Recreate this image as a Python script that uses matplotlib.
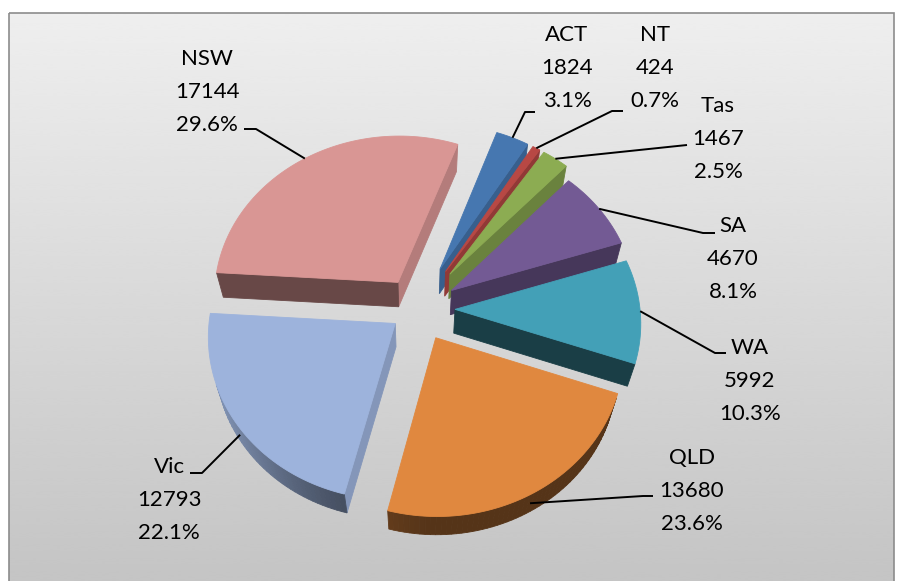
import numpy as np
import matplotlib.pyplot as plt
from matplotlib.patches import Polygon, Rectangle
from matplotlib.colors import to_rgb

# data, anticlockwise from the NSW / ACT boundary
states = ["NSW", "Vic", "QLD", "WA", "SA", "Tas", "NT", "ACT"]
counts = [17144, 12793, 13680, 5992, 4670, 1467, 424, 1824]

# styles
top_colors = ["#D99694", "#9DB3DC", "#E0883F", "#43A0B7",
              "#735A94", "#8CAC52", "#B84844", "#4677B0"]
explode = [37, 28, 37, 37, 40, 52, 52, 52]

# label layout: centre of the middle text line, leader start (x, y, elbow x)
label_xy = [(207, 90), (169, 498), (692, 489), (750, 379),
            (733, 257), (718, 137), (655, 66), (567, 66)]
leader_start = [(244, 129, 256), (190, 473, 202), (653, 496, 643), (726, 353, 715),
                (715, 233, 703), (687, 145, 687), (623, 111, 612), (535, 112, 525)]

# 3d pie geometry (pixel units)
CX, CY = 418, 309
R, H = 185, 50
PHI = np.radians(60.5)
DIST = 1225
START = 70.0
CAM_Y = -DIST * np.cos(PHI)


def project(x, y, z):
    x, y, z = np.asarray(x, float), np.asarray(y, float), np.asarray(z, float)
    depth = y * np.cos(PHI) - z * np.sin(PHI)
    f = DIST / (DIST + depth)
    return CX + x * f, CY - (y * np.sin(PHI) + z * np.cos(PHI)) * f, depth


def shaded(color, s):
    return tuple(np.clip(np.array(to_rgb(color)) * s, 0, 1))


def face(pts):
    pts = np.array(pts)
    xs, ys, ds = project(pts[:, 0], pts[:, 1], pts[:, 2])
    return np.column_stack([xs, ys]), ds.mean()


def visible(nx, ny, px, py):
    return nx * (0 - px) + ny * (CAM_Y - py) > 0


total = sum(counts)
pct = [100 * c / total for c in counts]
bounds = START + 360 * np.concatenate([[0], np.cumsum(counts)]) / total

fig = plt.figure(figsize=(9.01, 5.81), dpi=100)
ax = fig.add_axes([0, 0, 1, 1])
grad = np.linspace(0.935, 0.77, 256)[:, None]
ax.imshow(grad, cmap="gray", vmin=0, vmax=1, extent=(9, 894, 581, 13),
          aspect="auto", zorder=0, interpolation="bicubic")
ax.add_patch(Rectangle((9, 13), 885, 590, fill=False, ec="#8C8C8C", lw=1.2, zorder=1))
ax.set_xlim(0, 901)
ax.set_ylim(581, 0)
ax.axis("off")

slices = []
for i in range(len(states)):
    t1, t2 = np.radians(bounds[i]), np.radians(bounds[i + 1])
    m = (t1 + t2) / 2
    ox, oy = explode[i] * np.cos(m), explode[i] * np.sin(m)
    n = max(3, int(np.degrees(t2 - t1) / 1.5))
    t = np.linspace(t1, t2, n)
    col = top_colors[i]
    walls = []
    # curved outer wall
    for a, b in zip(t[:-1], t[1:]):
        tm = (a + b) / 2
        nx, ny = np.cos(tm), np.sin(tm)
        if not visible(nx, ny, ox + R * nx, oy + R * ny):
            continue
        pts = [(ox + R * np.cos(a), oy + R * np.sin(a), 0), (ox + R * np.cos(b), oy + R * np.sin(b), 0),
               (ox + R * np.cos(b), oy + R * np.sin(b), -H), (ox + R * np.cos(a), oy + R * np.sin(a), -H)]
        xy, d = face(pts)
        walls.append((d, xy, shaded(col, 0.38 + 0.5 * max(0, -nx) ** 1.5)))
    # radial walls
    for ang, sign in ((t1, 1), (t2, -1)):
        nx, ny = sign * np.sin(ang), -sign * np.cos(ang)
        rx, ry = ox + R / 2 * np.cos(ang), oy + R / 2 * np.sin(ang)
        if not visible(nx, ny, rx, ry):
            continue
        pts = [(ox, oy, 0), (ox + R * np.cos(ang), oy + R * np.sin(ang), 0),
               (ox + R * np.cos(ang), oy + R * np.sin(ang), -H), (ox, oy, -H)]
        xy, d = face(pts)
        walls.append((d, xy, shaded(col, np.clip(0.5 + 0.35 * nx, 0.3, 0.9))))
    top_pts = [(ox, oy, 0)] + [(ox + R * np.cos(a), oy + R * np.sin(a), 0) for a in t]
    top_xy, _ = face(top_pts)
    cy_world = oy + 0.6 * R * np.sin(m)
    slices.append((cy_world, walls, top_xy, col))

    # leader line
    z = -0.5 * H if np.sin(m) < -0.3 else 0
    axp, ayp, _ = project(ox + R * np.cos(m), oy + R * np.sin(m), z)
    sx, sy, ex = leader_start[i]
    ax.plot([sx, ex, axp], [sy, sy, ayp], color="black", lw=1.4, zorder=5,
            solid_capstyle="butt")

    lx, ly = label_xy[i]
    for k, line in enumerate([states[i], str(counts[i]), f"{pct[i]:.1f}%"]):
        ax.text(lx, ly + (k - 1) * 33 + 8, line, ha="center", va="baseline",
                fontsize=16, family="Lato", color="black", zorder=6)

# painter's order: far slices first
for _, walls, top_xy, col in sorted(slices, key=lambda s: -s[0]):
    for d, xy, c in sorted(walls, key=lambda w: -w[0]):
        ax.add_patch(Polygon(xy, closed=True, fc=c, ec=c, lw=0.6, zorder=2))
    ax.add_patch(Polygon(top_xy, closed=True, fc=col, ec=col, lw=0.6, zorder=2))

fig.savefig("out.png", dpi=100)
